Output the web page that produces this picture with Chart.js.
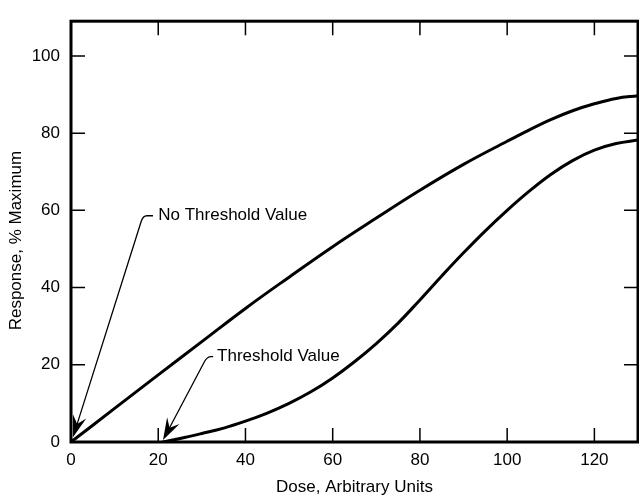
<!DOCTYPE html>
<html>
<head>
<meta charset="utf-8">
<script src="https://cdn.jsdelivr.net/npm/chart.js@4.4.0/dist/chart.umd.min.js"></script>
<style>
  html, body { margin: 0; padding: 0; background: #fff; }
  #wrap { width: 639px; height: 498px; }
</style>
</head>
<body>
<div id="wrap"><canvas id="doseChart"></canvas></div>
<script>
// ===== Data =====
const noThresholdDose = [0, 10, 20, 30, 40, 50, 60, 70, 80, 90, 100, 105, 110, 115, 120, 125, 130];
const noThresholdResponse = [0, 8.7, 17.4, 26, 34.6, 42.7, 50.6, 58, 65.2, 71.9, 77.9, 80.8, 83.5, 85.8, 87.6, 89, 89.7];

const thresholdDose = [21, 25, 30, 35, 40, 45, 50, 55, 60, 65, 70, 75, 80, 85, 90, 95, 100, 105, 110, 115, 120, 125, 130];
const thresholdResponse = [0, 0.9, 2.2, 3.6, 5.4, 7.5, 10, 13, 16.6, 20.8, 25.5, 30.8, 36.8, 43, 49, 54.7, 60, 64.9, 69.3, 72.9, 75.6, 77.3, 78.2];

const xTicks = [0, 20, 40, 60, 80, 100, 120];
const yTicks = [0, 20, 40, 60, 80, 100];

const xTitle = "Dose, Arbitrary Units";
const yTitle = "Response, % Maximum";

// callouts in data units: arrow tip, elbow, end of the short flat bit, text start
const callouts = [
  { text: "No Threshold Value", tip: [0.45, 1.2], elbow: [16.5, 58.6], end: [18.8, 58.6], label: [20, 58.6] },
  { text: "Threshold Value", tip: [21.1, 0.5], elbow: [31.2, 22.1], end: [32.6, 22.1], label: [33.5, 22.1] },
];

const FONT = "'Liberation Sans', Arial, Helvetica, sans-serif";

function toPoints(xs, ys) {
  return xs.map((v, i) => ({ x: v, y: ys[i] }));
}

// ===== Frame, inward ticks, callouts, y title =====
const framePlugin = {
  id: "framePlugin",
  afterDatasetsDraw(chart) {
    const { ctx, chartArea: a, scales: { x, y } } = chart;
    ctx.save();
    ctx.strokeStyle = "#000";
    ctx.fillStyle = "#000";

    // ticks pointing inwards, on all four sides
    ctx.lineWidth = 1.5;
    ctx.beginPath();
    xTicks.forEach((v) => {
      if (v === 0) return;
      const px = x.getPixelForValue(v);
      ctx.moveTo(px, a.bottom); ctx.lineTo(px, a.bottom - 14);
      ctx.moveTo(px, a.top); ctx.lineTo(px, a.top + 14);
    });
    yTicks.forEach((v) => {
      if (v === 0) return;
      const py = y.getPixelForValue(v);
      ctx.moveTo(a.left, py); ctx.lineTo(a.left + 14, py);
      ctx.moveTo(a.right, py); ctx.lineTo(a.right - 14, py);
    });
    ctx.stroke();

    // box
    ctx.lineWidth = 3;
    ctx.strokeRect(a.left, a.top, a.right - a.left, a.bottom - a.top);

    // callouts
    ctx.font = "17px " + FONT;
    ctx.textBaseline = "middle";
    ctx.textAlign = "left";
    callouts.forEach((c) => {
      const tip = [x.getPixelForValue(c.tip[0]), y.getPixelForValue(c.tip[1])];
      const elb = [x.getPixelForValue(c.elbow[0]), y.getPixelForValue(c.elbow[1])];
      const end = [x.getPixelForValue(c.end[0]), y.getPixelForValue(c.end[1])];
      const dx = tip[0] - elb[0], dy = tip[1] - elb[1];
      const len = Math.hypot(dx, dy);
      const ux = dx / len, uy = dy / len;

      // leader line with a small rounded elbow
      ctx.lineWidth = 1.3;
      ctx.beginPath();
      ctx.moveTo(tip[0] - ux * 12, tip[1] - uy * 12);
      ctx.lineTo(elb[0] + ux * 6, elb[1] + uy * 6);
      ctx.quadraticCurveTo(elb[0], elb[1], elb[0] + 4, elb[1]);
      ctx.lineTo(end[0], end[1]);
      ctx.stroke();

      // barbed arrow head
      const L = 22, W = 7, N = 14;
      const px = -uy, py = ux;
      ctx.beginPath();
      ctx.moveTo(tip[0], tip[1]);
      ctx.lineTo(tip[0] - ux * L + px * W, tip[1] - uy * L + py * W);
      ctx.lineTo(tip[0] - ux * N, tip[1] - uy * N);
      ctx.lineTo(tip[0] - ux * L - px * W, tip[1] - uy * L - py * W);
      ctx.closePath();
      ctx.fill();

      ctx.fillText(c.text, x.getPixelForValue(c.label[0]), y.getPixelForValue(c.label[1]));
    });

    // y axis title
    ctx.save();
    ctx.translate(16, (a.top + a.bottom) / 2 + 9);
    ctx.rotate(-Math.PI / 2);
    ctx.textAlign = "center";
    ctx.textBaseline = "middle";
    ctx.fillText(yTitle, 0, 0);
    ctx.restore();

    ctx.restore();
  },
};

// ===== Chart =====
const ctx = document.getElementById("doseChart").getContext("2d");
new Chart(ctx, {
  type: "scatter",
  data: {
    datasets: [
      {
        label: "No Threshold",
        data: toPoints(noThresholdDose, noThresholdResponse),
        showLine: true,
        borderColor: "#000",
        borderWidth: 3,
        pointRadius: 0,
        tension: 0.4,
      },
      {
        label: "Threshold",
        data: toPoints(thresholdDose, thresholdResponse),
        showLine: true,
        borderColor: "#000",
        borderWidth: 3,
        pointRadius: 0,
        tension: 0.4,
      },
    ],
  },
  options: {
    responsive: true,
    maintainAspectRatio: false,
    animation: false,
    layout: { padding: { top: 12, right: 1, bottom: 0, left: 0 } },
    plugins: { legend: { display: false }, tooltip: { enabled: false } },
    scales: {
      x: {
        type: "linear",
        min: 0,
        max: 130,
        grid: { display: false, drawTicks: false },
        border: { display: false },
        afterBuildTicks: (s) => { s.ticks = xTicks.map((v) => ({ value: v })); },
        afterFit: (s) => { s.height = 56; },
        ticks: { color: "#000", padding: 8, maxRotation: 0, font: { family: FONT, size: 17 } },
        title: { display: true, text: xTitle, color: "#000", padding: { top: 0, bottom: 0 }, font: { family: FONT, size: 17 } },
      },
      y: {
        type: "linear",
        min: 0,
        max: 109,
        grid: { display: false, drawTicks: false },
        border: { display: false },
        afterBuildTicks: (s) => { s.ticks = yTicks.map((v) => ({ value: v })); },
        afterFit: (s) => { s.width = 71; },
        ticks: { color: "#000", padding: 11, font: { family: FONT, size: 17 } },
      },
    },
  },
  plugins: [framePlugin],
});
</script>
</body>
</html>
